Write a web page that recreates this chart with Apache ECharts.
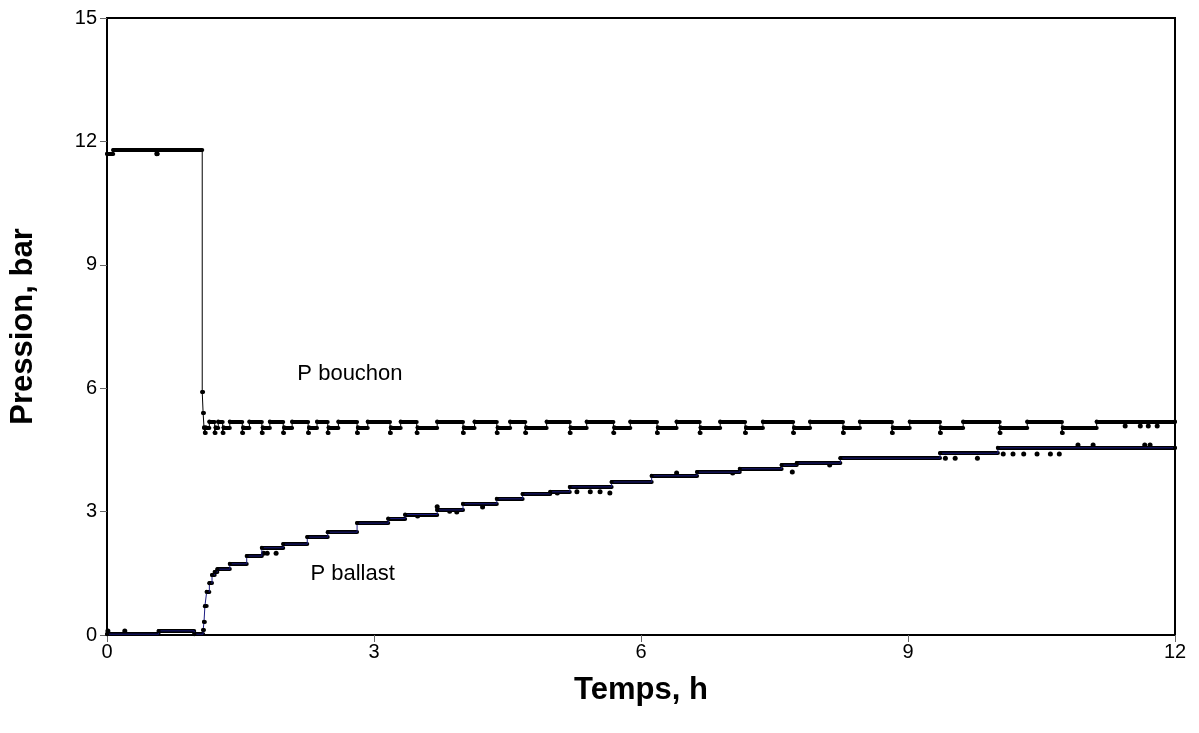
<!DOCTYPE html>
<html>
<head>
<meta charset="utf-8">
<title>Pression</title>
<script src="https://cdn.jsdelivr.net/npm/echarts@6/dist/echarts.min.js"></script>
<style>
html, body {
	margin: 0;
	height: 100%;
	width: 100%;
	background: #fff;
}
#chart {
	width: 1199px;
	height: 733px;
}
</style>
</head>
<body>
<div id="chart"></div>
<script type="text/javascript">
    // ticks
    var xTicks = [0, 3, 6, 9, 12];
    var yTicks = [0, 3, 6, 9, 12, 15];

    // P bouchon : [temps h, pression bar], each value holds until next point
    var bouchon = [
        [0.00, 11.70], [0.07, 11.79], [0.56, 11.70], [0.57, 11.79],
        [1.07, 5.91], [1.08, 5.40], [1.09, 5.05],
        [1.10, 4.92], [1.11, 5.05], [1.15, 5.19],
        [1.21, 4.92], [1.22, 5.05], [1.25, 5.19],
        [1.30, 4.92], [1.31, 5.05], [1.38, 5.19],
        [1.52, 4.92], [1.53, 5.05], [1.60, 5.19],
        [1.74, 4.92], [1.75, 5.05], [1.83, 5.19],
        [1.98, 4.92], [1.99, 5.05], [2.08, 5.19],
        [2.26, 4.92], [2.27, 5.05], [2.36, 5.19],
        [2.48, 4.92], [2.49, 5.05], [2.60, 5.19],
        [2.81, 4.92], [2.82, 5.05], [2.93, 5.19],
        [3.18, 4.92], [3.19, 5.05], [3.30, 5.19],
        [3.48, 4.92], [3.49, 5.05], [3.71, 5.19],
        [4.00, 4.92], [4.01, 5.05], [4.13, 5.19],
        [4.38, 4.92], [4.39, 5.05], [4.53, 5.19],
        [4.70, 4.92], [4.71, 5.05], [4.94, 5.19],
        [5.20, 4.92], [5.21, 5.05], [5.39, 5.19],
        [5.69, 4.92], [5.70, 5.05], [5.88, 5.19],
        [6.18, 4.92], [6.19, 5.05], [6.40, 5.19],
        [6.66, 4.92], [6.67, 5.05], [6.89, 5.19],
        [7.17, 4.92], [7.18, 5.05], [7.37, 5.19],
        [7.71, 4.92], [7.72, 5.05], [7.90, 5.19],
        [8.27, 4.92], [8.28, 5.05], [8.46, 5.19],
        [8.82, 4.92], [8.83, 5.05], [9.02, 5.19],
        [9.36, 4.92], [9.37, 5.05], [9.62, 5.19],
        [10.03, 4.92], [10.04, 5.05], [10.34, 5.19],
        [10.73, 4.92], [10.74, 5.05], [11.12, 5.19],
        [12.00, 5.19]
    ];
    var bouchonDots = [
        [0.56, 11.70], [11.44, 5.08], [11.61, 5.08], [11.70, 5.08], [11.80, 5.08]
    ];

    // P ballast
    var ballast = [
        [0.00, 0.02], [0.58, 0.10], [0.98, 0.02],
        [1.08, 0.12], [1.09, 0.32], [1.10, 0.70], [1.12, 1.05], [1.15, 1.26],
        [1.18, 1.46], [1.21, 1.53], [1.24, 1.60], [1.38, 1.73], [1.57, 1.92],
        [1.74, 2.12], [1.98, 2.21], [2.25, 2.38], [2.48, 2.50], [2.81, 2.72],
        [3.16, 2.83], [3.35, 2.93], [3.71, 3.04], [4.00, 3.19], [4.38, 3.31],
        [4.67, 3.43], [4.98, 3.48], [5.20, 3.60], [5.67, 3.72], [6.12, 3.87],
        [6.63, 3.96], [7.11, 4.04], [7.58, 4.13], [7.75, 4.18], [8.24, 4.30],
        [9.36, 4.42], [10.01, 4.55], [12.00, 4.55]
    ];
    var ballastDots = [
        [0.01, 0.10], [0.20, 0.10], [1.76, 1.99], [1.80, 1.99], [1.90, 1.99],
        [3.49, 2.89], [3.71, 3.12], [3.85, 3.01], [3.93, 2.99], [4.22, 3.11],
        [5.06, 3.45], [5.28, 3.48], [5.43, 3.48], [5.54, 3.48], [5.65, 3.45],
        [6.40, 3.94], [7.03, 3.94], [7.70, 3.96], [8.12, 4.13],
        [9.42, 4.30], [9.53, 4.30], [9.78, 4.30],
        [10.07, 4.40], [10.18, 4.40], [10.30, 4.40], [10.45, 4.40], [10.60, 4.40], [10.70, 4.40],
        [10.91, 4.62], [11.08, 4.62], [11.66, 4.62], [11.72, 4.62]
    ];

    // curve labels [x, y, text]
    var curveLabels = [
        [2.73, 6.35, 'P bouchon'],
        [2.76, 1.48, 'P ballast']
    ];

    // thick plateaus, like the dense markers of the original
    function plateaus(pts) {
        var segs = [];
        for (var k = 0; k < pts.length - 1; k++) {
            segs.push({coords: [[pts[k][0], pts[k][1]], [pts[k + 1][0], pts[k][1]]]});
        }
        return segs;
    }

    var myChart = echarts.init(document.getElementById('chart'));

    var font = 'Liberation Sans, Arial, sans-serif';

    option = {
        animation: false,
        backgroundColor: '#fff',
        grid: {
            left: 107, top: 18, width: 1068, height: 617,
            show: true, borderColor: '#000', borderWidth: 2
        },
        xAxis: {
            type: 'value',
            min: xTicks[0], max: xTicks[xTicks.length - 1], interval: 3,
            name: 'Temps, h',
            nameLocation: 'middle',
            nameGap: 40,
            nameTextStyle: {fontFamily: font, fontSize: 31, fontWeight: 'bold', color: '#000'},
            axisLine: {show: true, onZero: false, lineStyle: {color: '#000', width: 2}},
            axisTick: {show: true, length: 7, lineStyle: {color: '#666'}},
            axisLabel: {fontFamily: font, fontSize: 20, color: '#000', margin: 7},
            splitLine: {show: false}
        },
        yAxis: {
            type: 'value',
            min: yTicks[0], max: yTicks[yTicks.length - 1], interval: 3,
            name: 'Pression, bar',
            nameLocation: 'middle',
            nameRotate: 90,
            nameGap: 68,
            nameTextStyle: {fontFamily: font, fontSize: 31, fontWeight: 'bold', color: '#000'},
            axisLine: {show: true, onZero: false, lineStyle: {color: '#000', width: 2}},
            axisTick: {show: true, length: 7, lineStyle: {color: '#666'}},
            axisLabel: {fontFamily: font, fontSize: 20, color: '#000', margin: 10},
            splitLine: {show: false}
        },
        series: [{
            name: 'P bouchon',
            type: 'line',
            step: 'end',
            data: bouchon,
            symbol: 'circle',
            symbolSize: 4,
            itemStyle: {color: '#000'},
            lineStyle: {color: '#000', width: 1}
        }, {
            type: 'lines',
            coordinateSystem: 'cartesian2d',
            polyline: false,
            data: plateaus(bouchon),
            lineStyle: {color: '#000', width: 4, opacity: 1, cap: 'round'}
        }, {
            type: 'scatter',
            data: bouchonDots,
            symbolSize: 5,
            itemStyle: {color: '#000', opacity: 1}
        }, {
            name: 'P ballast',
            type: 'line',
            step: 'end',
            data: ballast,
            symbol: 'circle',
            symbolSize: 4,
            itemStyle: {color: '#000'},
            lineStyle: {color: '#1a1a80', width: 1}
        }, {
            type: 'lines',
            coordinateSystem: 'cartesian2d',
            polyline: false,
            data: plateaus(ballast),
            lineStyle: {color: '#000', width: 4, opacity: 1, cap: 'round'}
        }, {
            type: 'scatter',
            data: ballastDots,
            symbolSize: 5,
            itemStyle: {color: '#000', opacity: 1}
        }, {
            type: 'scatter',
            data: curveLabels,
            symbolSize: 0,
            silent: true,
            itemStyle: {opacity: 1},
            label: {
                show: true,
                position: 'inside',
                formatter: function (p) { return p.value[2]; },
                fontFamily: font,
                fontSize: 22,
                color: '#000',
                opacity: 1,
                textBorderWidth: 0
            }
        }]
    };

    myChart.setOption(option);
</script>
</body>
</html>
